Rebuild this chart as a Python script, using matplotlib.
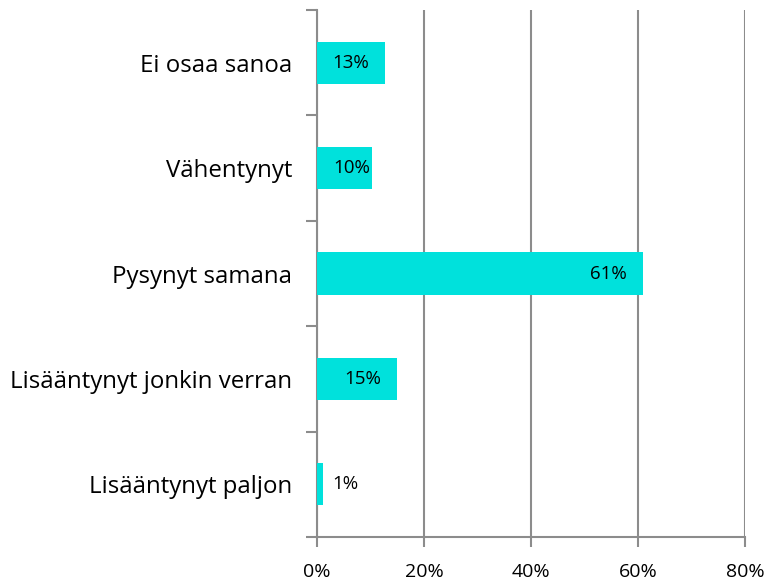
import matplotlib
matplotlib.use("Agg")
import matplotlib.pyplot as plt
from matplotlib.ticker import FuncFormatter

# data, bottom to top
categories = [
    "Lisääntynyt paljon",
    "Lisääntynyt jonkin verran",
    "Pysynyt samana",
    "Vähentynyt",
    "Ei osaa sanoa",
]
values = [1.1, 15.0, 60.9, 10.3, 12.7]
labels = ["1%", "15%", "61%", "10%", "13%"]
x_ticks = [0, 20, 40, 60, 80]

BAR_COLOR = "#00E1DC"
GRID_COLOR = "#8C8C8C"

plt.rcParams["font.family"] = ["Open Sans", "DejaVu Sans"]

fig = plt.figure(figsize=(7.69, 5.82), dpi=100)
ax = fig.add_axes([0.4122, 0.0773, 0.5566, 0.9055])

pos = list(range(len(categories)))
ax.barh(pos, values, height=0.4, color=BAR_COLOR, zorder=3)

ax.set_xlim(0, 80)
ax.set_ylim(-0.5, len(categories) - 0.5)

# value labels: inside end with padding, kept off the bar start; outside if too short
renderer = fig.canvas.get_renderer()
PAD = 3.0
for y, v, lab in zip(pos, values, labels):
    if v > 5:
        t = ax.text(v - PAD, y, lab, ha="right", va="center", fontsize=13.5, zorder=4)
        bb = t.get_window_extent(renderer).transformed(ax.transData.inverted())
        if bb.x0 < 2.0:
            t.set_x(v - 0.4)
    else:
        ax.text(v + 1.8, y, lab, ha="left", va="center", fontsize=13.5, zorder=4)

ax.set_xticks(x_ticks)
ax.xaxis.set_major_formatter(FuncFormatter(lambda v, _: f"{v:.0f}%"))
ax.tick_params(axis="x", length=7, width=1.5, color=GRID_COLOR, labelsize=14, pad=12)

# category labels on the minor ticks, tick marks between categories
ax.set_yticks([p - 0.5 for p in pos] + [len(categories) - 0.5])
ax.set_yticklabels([])
ax.set_yticks(pos, minor=True)
ax.set_yticklabels(categories, minor=True, fontsize=17.3)
ax.tick_params(axis="y", which="major", length=8, width=1.5, color=GRID_COLOR)
ax.tick_params(axis="y", which="minor", length=0, pad=18)

ax.grid(axis="x", color=GRID_COLOR, linewidth=1.5, zorder=0)
for side in ["top", "right"]:
    ax.spines[side].set_visible(False)
for side in ["left", "bottom"]:
    ax.spines[side].set_color(GRID_COLOR)
    ax.spines[side].set_linewidth(1.5)

fig.savefig("out.png", dpi=100)
